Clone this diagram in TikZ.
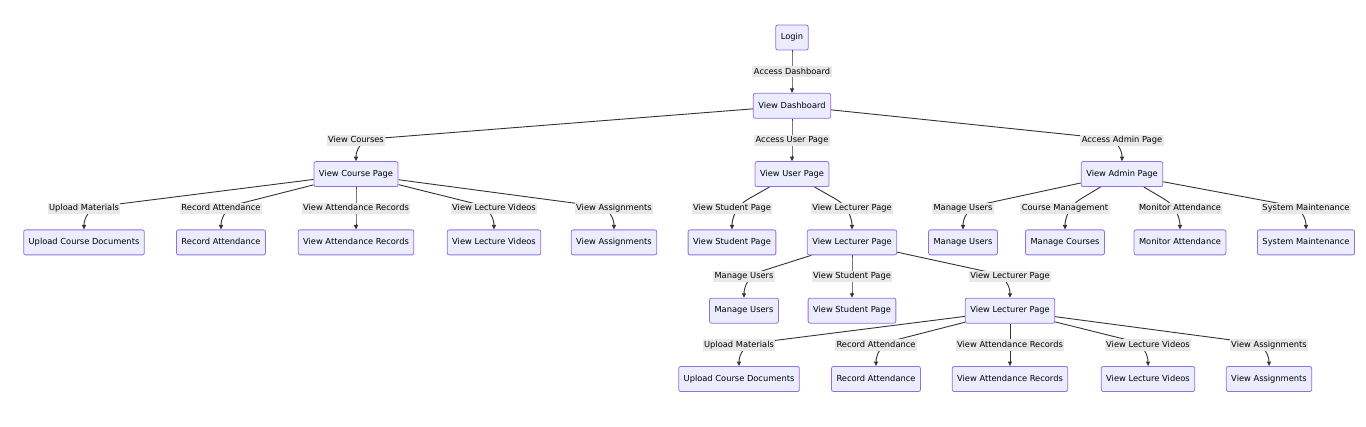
\documentclass[tikz,border=0pt]{standalone}
\usepackage{fontspec}
\setmainfont{DejaVu Sans}
\usepackage{xcolor}
\usepackage{tikz}
\usetikzlibrary{arrows.meta, positioning, calc}

\definecolor{boxfill}{HTML}{ECECFF}
\definecolor{boxline}{HTML}{9370DB}
\definecolor{lblfill}{HTML}{E8E8E8}
\definecolor{linkcol}{HTML}{333333}

\pgfdeclarelayer{bg}
\pgfsetlayers{bg,main}

\begin{document}
\begin{tikzpicture}[
    node distance=68.3pt and 60pt,
    on grid,
    block/.style={rectangle, draw=boxline, fill=boxfill, line width=0.8pt, rounded corners=2pt, minimum height=25pt, inner xsep=5pt, text height=6.3pt, text depth=1.8pt, font=\fontsize{8.3}{10}\selectfont},
    edgelabel/.style={rectangle, fill=lblfill, inner xsep=1.5pt, inner ysep=1.5pt, text height=6.3pt, text depth=1.8pt, font=\fontsize{8.3}{10}\selectfont},
    arrow/.style={-{Triangle[length=4.5pt, width=4pt]}, draw=linkcol, line width=0.9pt},
    via/.style={to path={-- ($(#1.center)!18pt!(\tikztostart)$) .. controls ($(#1.center)!4pt!(\tikztostart)$) and ([yshift=10pt]\tikztotarget.north) .. (\tikztotarget.north)}},
]
\useasboundingbox (0,0) rectangle (1366pt,-427pt);

% Top
\node[block] (login) at (792pt,-37.5pt) {Login};
\node[block, below=of login] (dash) {View Dashboard};

% Row 2
\node[block, below left=68.3pt and 436pt of dash] (course) {View Course Page};
\node[block, below=of dash] (user) {View User Page};
\node[block, below right=68.3pt and 330pt of dash] (admin) {View Admin Page};

% Row 3: course page
\node[block, below left=68.3pt and 272pt of course] (upC) {Upload Course Documents};
\node[block, below left=68.3pt and 135pt of course] (recC) {Record Attendance};
\node[block, below=of course] (attC) {View Attendance Records};
\node[block, below right=68.3pt and 138pt of course] (vidC) {View Lecture Videos};
\node[block, below right=68.3pt and 258pt of course] (asgC) {View Assignments};

% Row 3: user page
\node[block, below left=68.3pt and 60pt of user] (stuU) {View Student Page};
\node[block, below right=68.3pt and 60pt of user] (lecU) {View Lecturer Page};

% Row 3: admin page
\node[block, below left=68.3pt and 159pt of admin] (manA) {Manage Users};
\node[block, below left=68.3pt and 57pt of admin] (crsA) {Manage Courses};
\node[block, below right=68.3pt and 58pt of admin] (monA) {Monitor Attendance};
\node[block, below right=68.3pt and 184pt of admin] (sysA) {System Maintenance};

% Row 4: lecturer page
\node[block, below left=68.3pt and 108pt of lecU] (manL) {Manage Users};
\node[block, below=of lecU] (stuL) {View Student Page};
\node[block, below right=68.3pt and 158pt of lecU] (lecL) {View Lecturer Page};

% Row 5: nested lecturer page
\node[block, below left=68.3pt and 271pt of lecL] (upL) {Upload Course Documents};
\node[block, below left=68.3pt and 134pt of lecL] (recL) {Record Attendance};
\node[block, below=of lecL] (attL) {View Attendance Records};
\node[block, below right=68.3pt and 138pt of lecL] (vidL) {View Lecture Videos};
\node[block, below right=68.3pt and 259pt of lecL] (asgL) {View Assignments};

% Edge labels
\node[edgelabel, above=34pt of dash] (l_dash) {Access Dashboard};
\node[edgelabel, above=34pt of course] (l_course) {View Courses};
\node[edgelabel, above=34pt of user] (l_user) {Access User Page};
\node[edgelabel, above=34pt of admin] (l_admin) {Access Admin Page};
\node[edgelabel, above=34pt of upC] (l_upC) {Upload Materials};
\node[edgelabel, above=34pt of recC] (l_recC) {Record Attendance};
\node[edgelabel, above=34pt of attC] (l_attC) {View Attendance Records};
\node[edgelabel, above=34pt of vidC] (l_vidC) {View Lecture Videos};
\node[edgelabel, above=34pt of asgC] (l_asgC) {View Assignments};
\node[edgelabel, above=34pt of stuU] (l_stuU) {View Student Page};
\node[edgelabel, above=34pt of lecU] (l_lecU) {View Lecturer Page};
\node[edgelabel, above=34pt of manA] (l_manA) {Manage Users};
\node[edgelabel, above=34pt of crsA] (l_crsA) {Course Management};
\node[edgelabel, above=34pt of monA] (l_monA) {Monitor Attendance};
\node[edgelabel, above=34pt of sysA] (l_sysA) {System Maintenance};
\node[edgelabel, above=34pt of manL] (l_manL) {Manage Users};
\node[edgelabel, above=34pt of stuL] (l_stuL) {View Student Page};
\node[edgelabel, above=34pt of lecL] (l_lecL) {View Lecturer Page};
\node[edgelabel, above=34pt of upL] (l_upL) {Upload Materials};
\node[edgelabel, above=34pt of recL] (l_recL) {Record Attendance};
\node[edgelabel, above=34pt of attL] (l_attL) {View Attendance Records};
\node[edgelabel, above=34pt of vidL] (l_vidL) {View Lecture Videos};
\node[edgelabel, above=34pt of asgL] (l_asgL) {View Assignments};

% Connectors
\begin{pgfonlayer}{bg}
\draw[arrow] (login) to[via=l_dash] (dash);
\draw[arrow] (dash) to[via=l_course] (course);
\draw[arrow] (dash) to[via=l_user] (user);
\draw[arrow] (dash) to[via=l_admin] (admin);

\draw[arrow] (course) to[via=l_upC] (upC);
\draw[arrow] (course) to[via=l_recC] (recC);
\draw[arrow] (course) to[via=l_attC] (attC);
\draw[arrow] (course) to[via=l_vidC] (vidC);
\draw[arrow] (course) to[via=l_asgC] (asgC);

\draw[arrow] (user) to[via=l_stuU] (stuU);
\draw[arrow] (user) to[via=l_lecU] (lecU);

\draw[arrow] (admin) to[via=l_manA] (manA);
\draw[arrow] (admin) to[via=l_crsA] (crsA);
\draw[arrow] (admin) to[via=l_monA] (monA);
\draw[arrow] (admin) to[via=l_sysA] (sysA);

\draw[arrow] (lecU) to[via=l_manL] (manL);
\draw[arrow] (lecU) to[via=l_stuL] (stuL);
\draw[arrow] (lecU) to[via=l_lecL] (lecL);

\draw[arrow] (lecL) to[via=l_upL] (upL);
\draw[arrow] (lecL) to[via=l_recL] (recL);
\draw[arrow] (lecL) to[via=l_attL] (attL);
\draw[arrow] (lecL) to[via=l_vidL] (vidL);
\draw[arrow] (lecL) to[via=l_asgL] (asgL);
\end{pgfonlayer}
\end{tikzpicture}
\end{document}
